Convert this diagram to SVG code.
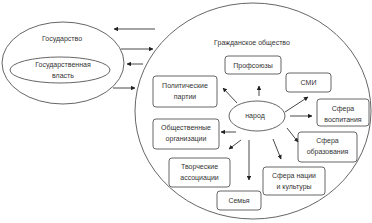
<svg xmlns="http://www.w3.org/2000/svg" width="372" height="223" viewBox="0 0 372 223">
<style>
.sh{fill:#fff;stroke:#555;stroke-width:0.9}
.bx{fill:#fff;stroke:#555;stroke-width:0.9}
.t{font-family:"Liberation Sans",Arial,sans-serif;font-size:7px;fill:#333;text-anchor:middle}
.c{stroke:#333;stroke-width:0.9;fill:none;marker-end:url(#ah)}
</style>
<defs>
<marker id="ah" viewBox="0 0 10 10" refX="9" refY="5" markerWidth="4.5" markerHeight="4.5" markerUnits="userSpaceOnUse" orient="auto">
<path d="M0,0 L10,5 L0,10 z" fill="#222"/>
</marker>
</defs>
<rect width="372" height="223" fill="#fff"/>
<g id="gosudarstvo">
<ellipse class="sh" cx="63" cy="63" rx="61" ry="41"/>
<text class="t" x="62" y="41">Государство</text>
</g>
<g id="vlast">
<ellipse class="sh" cx="60" cy="70" rx="50" ry="13"/>
<text class="t" x="63" y="67">Государственная</text>
<text class="t" x="63" y="78">власть</text>
</g>
<g id="grazhdanskoe">
<ellipse class="sh" cx="253" cy="111" rx="118" ry="108"/>
<text class="t" x="252" y="45">Гражданское общество</text>
</g>
<g id="narod">
<ellipse class="sh" cx="257" cy="116" rx="28" ry="15"/>
<text class="t" x="255" y="118">народ</text>
</g>
<g id="profsoyuzy">
<rect class="bx" x="225" y="56" width="56" height="18" rx="3"/>
<text class="t" x="253" y="67.5">Профсоюзы</text>
</g>
<g id="smi">
<rect class="bx" x="286" y="73" width="45" height="19" rx="3"/>
<text class="t" x="308.5" y="85">СМИ</text>
</g>
<g id="partii">
<rect class="bx" x="153" y="76" width="64" height="31" rx="3"/>
<text class="t" x="185" y="88">Политические</text>
<text class="t" x="185" y="99">партии</text>
</g>
<g id="vospitanie">
<rect class="bx" x="317" y="99" width="52" height="27" rx="3"/>
<text class="t" x="343" y="111">Сфера</text>
<text class="t" x="343" y="122">воспитания</text>
</g>
<g id="organizacii">
<rect class="bx" x="153" y="119" width="66" height="30" rx="3"/>
<text class="t" x="186" y="130">Общественные</text>
<text class="t" x="186" y="141">организации</text>
</g>
<g id="obrazovanie">
<rect class="bx" x="298" y="132" width="59" height="30" rx="3"/>
<text class="t" x="327.5" y="143">Сфера</text>
<text class="t" x="327.5" y="154">образования</text>
</g>
<g id="tvorcheskie">
<rect class="bx" x="169" y="158" width="61" height="29" rx="3"/>
<text class="t" x="199.5" y="169">Творческие</text>
<text class="t" x="199.5" y="180">ассоциации</text>
</g>
<g id="naciya">
<rect class="bx" x="263" y="167" width="62" height="28" rx="3"/>
<text class="t" x="294" y="178">Сфера нации</text>
<text class="t" x="294" y="189">и культуры</text>
</g>
<g id="semya">
<rect class="bx" x="217" y="191" width="44" height="19" rx="3"/>
<text class="t" x="239" y="203">Семья</text>
</g>
<g id="connectors">
<line class="c" x1="155" y1="29" x2="114" y2="29"/>
<line class="c" x1="121" y1="49" x2="153" y2="49"/>
<line class="c" x1="143" y1="64" x2="127" y2="64"/>
<line class="c" x1="113" y1="88" x2="135" y2="88"/>
<line class="c" x1="259" y1="96" x2="259" y2="86"/>
<line class="c" x1="237" y1="103" x2="223" y2="88"/>
<line class="c" x1="285" y1="112" x2="308" y2="97"/>
<line class="c" x1="290" y1="116" x2="312" y2="116"/>
<line class="c" x1="287" y1="128" x2="298" y2="142"/>
<line class="c" x1="273" y1="139" x2="281" y2="159"/>
<line class="c" x1="249" y1="140" x2="249" y2="180"/>
<line class="c" x1="241" y1="140" x2="229" y2="149"/>
<line class="c" x1="236" y1="132" x2="221" y2="132"/>
</g>
</svg>
